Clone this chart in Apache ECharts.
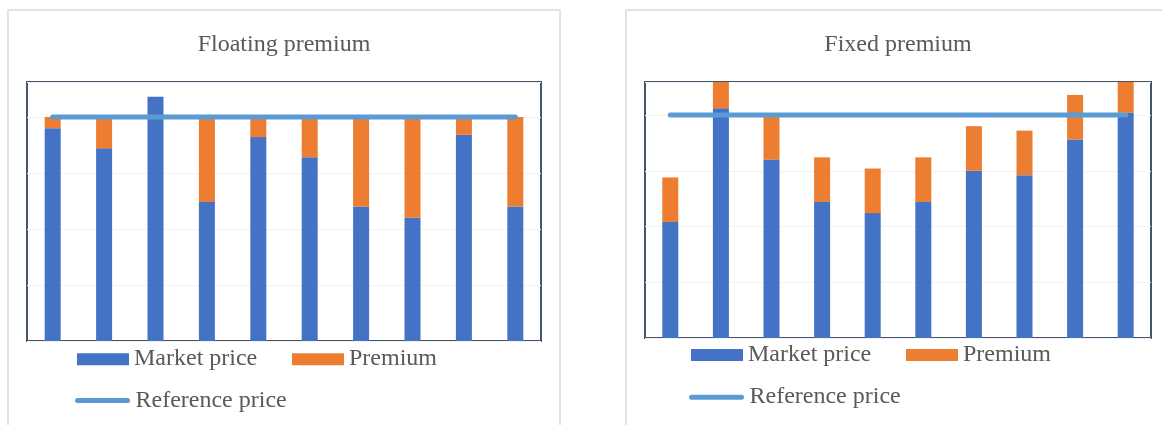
<!DOCTYPE html>
<html>
<head>
<meta charset="utf-8">
<title>Floating vs fixed premium</title>
<script src="https://cdn.jsdelivr.net/npm/echarts@6/dist/echarts.min.js"></script>
<style>
  html, body { margin: 0; padding: 0; background: #ffffff; }
  #chart { width: 1162px; height: 425px; }
</style>
</head>
<body>
<div id="chart"></div>
<script>
// Ten delivery periods per panel
const periods = ['1', '2', '3', '4', '5', '6', '7', '8', '9', '10'];

// Floating premium: premium tops the market price up to the reference price
const floatingMarket = [95, 86, 109, 62, 91, 82, 60, 55, 92, 60];
const floatingPremium = [5, 14, 0, 38, 9, 18, 40, 45, 8, 40];

// Fixed premium: constant premium on top of the market price
const fixedMarket = [52, 103, 80, 61, 56, 61, 75, 73, 89, 101];
const fixedPremium = [20, 20, 20, 20, 20, 20, 20, 20, 20, 20];

const referencePrice = [100, 100, 100, 100, 100, 100, 100, 100, 100, 100];

const titles = ['Floating premium', 'Fixed premium'];

const BLUE = '#4472c4';
const ORANGE = '#ed7d31';
const REF = '#5b9bd5';
const TEXT = '#595959';
const FONT = '"Liberation Serif", "Times New Roman", serif';

const capsule = 'path://M2.5,0 H52.5 A2.5,2.5 0 0 1 52.5,5 H2.5 A2.5,2.5 0 0 1 2.5,0 Z';

const grids = [
  { left: 27, top: 82, width: 514, height: 259 },
  { left: 645, top: 82, width: 506, height: 256 }
];
const yMax = [115.6, 114.8];

function legendItem(name, left, top, w, h, icon) {
  return {
    left: left, top: top, padding: 0,
    itemWidth: w, itemHeight: h,
    selectedMode: false,
    data: [{ name: name, icon: icon }],
    textStyle: { fontFamily: FONT, fontSize: 24, color: TEXT, lineHeight: 16 }
  };
}

const option = {
  animation: false,
  grid: grids.map(g => Object.assign({
    show: true, borderColor: '#44546a', borderWidth: 2, backgroundColor: 'transparent'
  }, g)),
  xAxis: [0, 1].map(i => ({
    type: 'category', gridIndex: i, data: periods,
    axisLine: { show: false }, axisTick: { show: false }, axisLabel: { show: false }
  })),
  yAxis: [0, 1].map(i => ({
    type: 'value', gridIndex: i, min: 0, max: yMax[i], interval: 25,
    axisLine: { show: false }, axisTick: { show: false }, axisLabel: { show: false },
    splitLine: { lineStyle: { color: '#f2f2f2', width: 1 } }
  })),
  legend: [
    legendItem('Market price', 77, 347.2, 52, 12, 'rect'),
    legendItem('Premium', 292, 347.2, 52, 12, 'rect'),
    legendItem('Reference price', 75, 388.5, 56, 5, capsule),
    legendItem('Market price', 691, 343, 52, 12, 'rect'),
    legendItem('Premium', 906, 343, 52, 12, 'rect'),
    legendItem('Reference price', 689, 385.2, 56, 5, capsule)
  ],
  graphic: [
    { type: 'rect', silent: true, shape: { x: 8, y: 10, width: 552, height: 440 },
      style: { fill: 'none', stroke: '#d9d9d9', lineWidth: 1.5 } },
    { type: 'rect', silent: true, shape: { x: 626, y: 10, width: 600, height: 440 },
      style: { fill: 'none', stroke: '#d9d9d9', lineWidth: 1.5 } },
    { type: 'text', silent: true, x: 284, y: 45,
      style: { text: titles[0], font: '24px ' + FONT, fill: TEXT, align: 'center', verticalAlign: 'middle' } },
    { type: 'text', silent: true, x: 898, y: 45,
      style: { text: titles[1], font: '24px ' + FONT, fill: TEXT, align: 'center', verticalAlign: 'middle' } }
  ],
  series: [
    { name: 'Market price', type: 'bar', xAxisIndex: 0, yAxisIndex: 0, stack: 'floating',
      barWidth: 16, data: floatingMarket, itemStyle: { color: BLUE } },
    { name: 'Premium', type: 'bar', xAxisIndex: 0, yAxisIndex: 0, stack: 'floating',
      barWidth: 16, data: floatingPremium, itemStyle: { color: ORANGE } },
    { name: 'Reference price', type: 'line', xAxisIndex: 0, yAxisIndex: 0,
      data: referencePrice, symbol: 'none', z: 5,
      lineStyle: { color: REF, width: 5, cap: 'round' }, itemStyle: { color: REF } },
    { name: 'Market price', type: 'bar', xAxisIndex: 1, yAxisIndex: 1, stack: 'fixed',
      barWidth: 16, data: fixedMarket, itemStyle: { color: BLUE } },
    { name: 'Premium', type: 'bar', xAxisIndex: 1, yAxisIndex: 1, stack: 'fixed',
      barWidth: 16, data: fixedPremium, itemStyle: { color: ORANGE } },
    { name: 'Reference price', type: 'line', xAxisIndex: 1, yAxisIndex: 1,
      data: referencePrice, symbol: 'none', z: 5,
      lineStyle: { color: REF, width: 5, cap: 'round' }, itemStyle: { color: REF } }
  ]
};

const chart = echarts.init(document.getElementById('chart'), null, { renderer: 'canvas' });
chart.setOption(option);
</script>
</body>
</html>
